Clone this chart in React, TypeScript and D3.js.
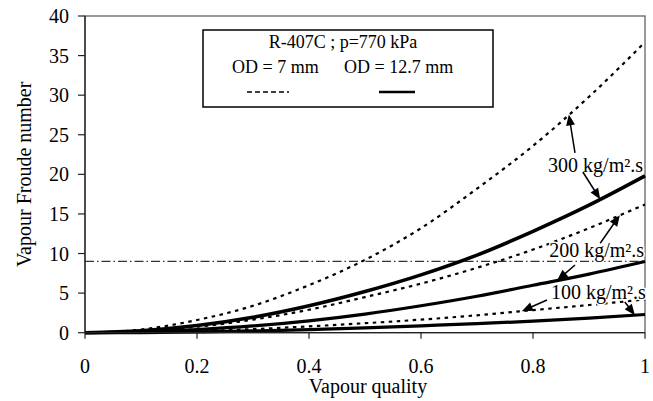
import React from "react";
import * as d3 from "d3";

// Vapour quality sample points
const quality = [0, 0.1, 0.2, 0.3, 0.4, 0.5, 0.6, 0.7, 0.8, 0.9, 1.0];

// Vapour Froude number, OD = 7 mm (dashed)
const fr7_300 = [0, 0.4, 1.6, 3.4, 6.0, 9.2, 13.2, 18.2, 23.6, 29.8, 36.7];
const fr7_200 = [0, 0.2, 0.75, 1.65, 2.9, 4.5, 6.2, 8.2, 10.5, 13.2, 16.2];
const fr7_100 = [0, 0.05, 0.2, 0.45, 0.8, 1.2, 1.65, 2.2, 2.85, 3.5, 4.2];

// Vapour Froude number, OD = 12.7 mm (solid)
const fr12_300 = [0, 0.25, 0.9, 1.95, 3.4, 5.2, 7.3, 9.8, 12.8, 16.1, 19.8];
const fr12_200 = [0, 0.1, 0.4, 0.85, 1.5, 2.35, 3.4, 4.6, 6.0, 7.4, 9.0];
const fr12_100 = [0, 0.02, 0.1, 0.22, 0.38, 0.6, 0.87, 1.15, 1.45, 1.85, 2.3];

// Transition reference line
const thresholdFr = 9;

const xTicks = [0, 0.2, 0.4, 0.6, 0.8, 1];
const xTickLabels = ["0", "0.2", "0.4", "0.6", "0.8", "1"];
const yTicks = [0, 5, 10, 15, 20, 25, 30, 35, 40];

// Mass flux labels: text anchor and arrows (tail point, target quality on a curve)
const fluxLabels = ["300 kg/m².s", "200 kg/m².s", "100 kg/m².s"];
const labelAnchor = [
  [0.827, 20.3],
  [0.829, 9.55],
  [0.832, 4.25],
];
const arrowTails = [
  [[0.875, 22.7], [0.889, 20.3]],
  [[0.92, 11.3], [0.875, 8.55]],
  [[0.825, 4.13], [0.964, 3.88]],
];
const arrowTargetQ = [
  [0.864, 0.92],
  [0.955, 0.843],
  [0.78, 0.982],
];

const W = 653;
const H = 401;
const FONT = "'Liberation Serif', 'Times New Roman', serif";

export default function App() {
  const x = d3.scaleLinear().domain([0, 1]).range([85, 645]);
  const y = d3.scaleLinear().domain([0, 40]).range([332.7, 16]);

  const line = d3
    .line<number>()
    .x((_, i) => x(quality[i]))
    .y((d) => y(d))
    .curve(d3.curveMonotoneX);

  const dashedSeries = [fr7_300, fr7_200, fr7_100];
  const solidSeries = [fr12_300, fr12_200, fr12_100];

  const interp = (vals: number[], q: number) =>
    d3.scaleLinear().domain(quality).range(vals)(q);

  const arrowHead = (x1: number, y1: number, x2: number, y2: number) => {
    const ang = Math.atan2(y2 - y1, x2 - x1);
    const len = 11;
    const half = 4.5;
    const bx = x2 - len * Math.cos(ang);
    const by = y2 - len * Math.sin(ang);
    const px = -Math.sin(ang) * half;
    const py = Math.cos(ang) * half;
    return `M${x2},${y2}L${bx + px},${by + py}L${bx - px},${by - py}Z`;
  };

  const arrows: { x1: number; y1: number; x2: number; y2: number }[] = [];
  fluxLabels.forEach((_, i) => {
    const targets = [dashedSeries[i], solidSeries[i]];
    targets.forEach((vals, j) => {
      const q = arrowTargetQ[i][j];
      const [tq, tv] = arrowTails[i][j];
      arrows.push({ x1: x(tq), y1: y(tv), x2: x(q), y2: y(interp(vals, q)) });
    });
  });

  return (
    <svg
      width={W}
      height={H}
      style={{ position: "absolute", left: 0, top: 0, background: "#fff" }}
      fontFamily={FONT}
    >
      <rect x={0} y={0} width={W} height={H} fill="#fff" />

      {/* plot frame */}
      <rect
        x={x(0)}
        y={y(40)}
        width={x(1) - x(0)}
        height={y(0) - y(40)}
        fill="none"
        stroke="#555"
        strokeWidth={1.2}
      />

      {/* reference line */}
      <line
        x1={x(0)}
        x2={x(1)}
        y1={y(thresholdFr)}
        y2={y(thresholdFr)}
        stroke="#333"
        strokeWidth={1.2}
        strokeDasharray="9 3 1.5 3"
      />

      {/* curves */}
      {dashedSeries.map((vals, i) => (
        <path
          key={"d" + i}
          d={line(vals) || ""}
          fill="none"
          stroke="#000"
          strokeWidth={2.2}
          strokeDasharray="3.5 4.5"
        />
      ))}
      {solidSeries.map((vals, i) => (
        <path
          key={"s" + i}
          d={line(vals) || ""}
          fill="none"
          stroke="#000"
          strokeWidth={i === 0 ? 3.6 : 3.2}
        />
      ))}

      {/* axes */}
      <line x1={x(0)} x2={x(0)} y1={y(0)} y2={y(40)} stroke="#222" strokeWidth={1.3} />
      <line x1={x(0)} x2={x(1)} y1={y(0)} y2={y(0)} stroke="#222" strokeWidth={1.3} />
      {yTicks.map((t) => (
        <g key={"yt" + t}>
          <line x1={x(0) - 7} x2={x(0)} y1={y(t)} y2={y(t)} stroke="#222" strokeWidth={1.2} />
          <text
            x={69}
            y={y(t)}
            dy="0.35em"
            textAnchor="end"
            fontSize={20}
            fill="#000"
          >
            {t}
          </text>
        </g>
      ))}
      {xTicks.map((t, i) => (
        <g key={"xt" + t}>
          <line x1={x(t)} x2={x(t)} y1={y(0)} y2={y(0) + 6} stroke="#222" strokeWidth={1.2} />
          <text x={x(t)} y={373} textAnchor="middle" fontSize={20} fill="#000">
            {xTickLabels[i]}
          </text>
        </g>
      ))}
      <text x={(x(0) + x(1)) / 2 + 3} y={393} textAnchor="middle" fontSize={20} fill="#000">
        Vapour quality
      </text>
      <text
        transform={`translate(31,${(y(0) + y(40)) / 2}) rotate(-90)`}
        textAnchor="middle"
        fontSize={20}
        fill="#000"
      >
        Vapour Froude number
      </text>

      {/* legend */}
      <rect x={203} y={30} width={290} height={77} fill="#fff" stroke="#000" strokeWidth={1.5} />
      <text x={343} y={48} textAnchor="middle" fontSize={18} fill="#000">
        R-407C ; p=770 kPa
      </text>
      <text x={232} y={73} fontSize={18} fill="#000">
        OD = 7 mm
      </text>
      <text x={344} y={73} fontSize={18} fill="#000">
        OD = 12.7 mm
      </text>
      <line x1={247} x2={289} y1={92} y2={92} stroke="#000" strokeWidth={1.5} strokeDasharray="5 3" />
      <line x1={379} x2={415} y1={92} y2={92} stroke="#000" strokeWidth={2.5} />

      {/* mass flux annotations */}
      {fluxLabels.map((lab, i) => (
        <text
          key={"lab" + i}
          x={x(labelAnchor[i][0])}
          y={y(labelAnchor[i][1])}
          fontSize={20}
          fill="#000"
          stroke="#fff"
          strokeWidth={3}
          paintOrder="stroke"
        >
          {lab}
        </text>
      ))}
      {arrows.map((a, i) => {
        const ang = Math.atan2(a.y2 - a.y1, a.x2 - a.x1);
        return (
          <g key={"ar" + i}>
            <line
              x1={a.x1}
              y1={a.y1}
              x2={a.x2 - 9 * Math.cos(ang)}
              y2={a.y2 - 9 * Math.sin(ang)}
              stroke="#000"
              strokeWidth={1.5}
            />
            <path d={arrowHead(a.x1, a.y1, a.x2, a.y2)} fill="#000" />
          </g>
        );
      })}
    </svg>
  );
}
